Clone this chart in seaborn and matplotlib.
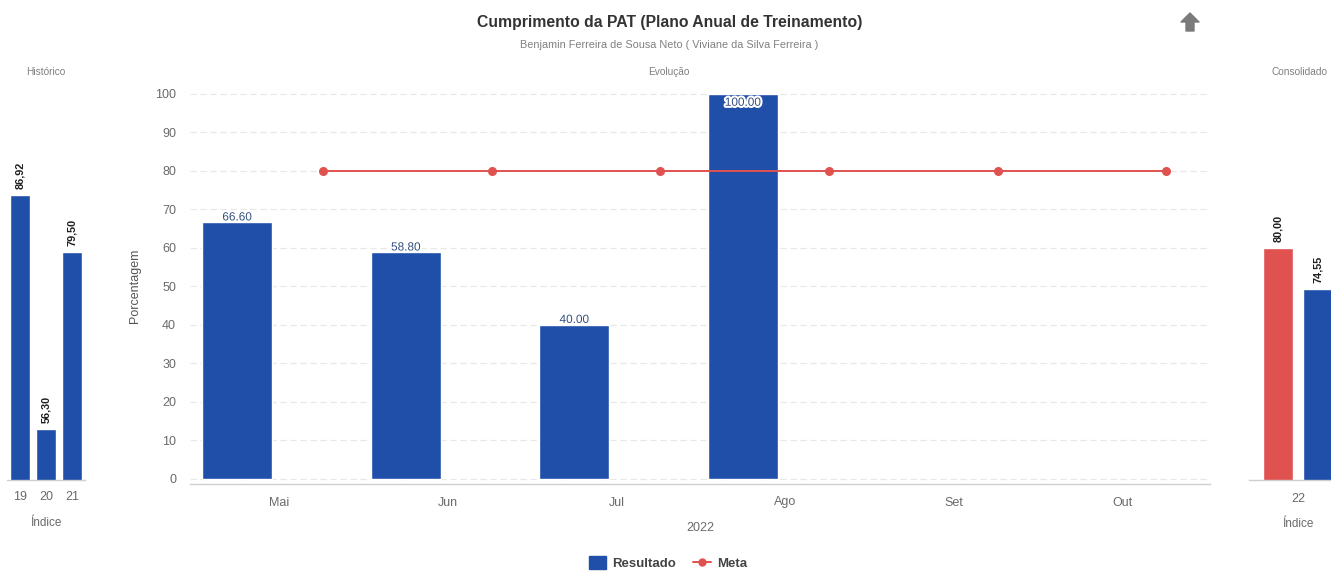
import numpy as np
import pandas as pd
import matplotlib
matplotlib.use("Agg")
import matplotlib.pyplot as plt
import seaborn as sns
from matplotlib import patheffects as pe
from matplotlib.patches import Patch, Polygon
from matplotlib.lines import Line2D

# ---- data -------------------------------------------------------------
meses = ["Mai", "Jun", "Jul", "Ago", "Set", "Out"]
resultado_meses = ["Mai", "Jun", "Jul", "Ago"]
resultado = [66.60, 58.80, 40.00, 100.00]
meta = [80, 80, 80, 80, 80, 80]

hist_indices = ["19", "20", "21"]
hist_valores = [86.92, 56.30, 79.50]

cons_indice = ["22", "22"]
cons_series = ["Meta", "Resultado"]
cons_valores = [80.00, 74.55]

# ---- style ------------------------------------------------------------
BLUE = "#1f4fa8"
RED = "#e0524f"
GRID = "#e8e8e8"
TICK = "#6a6a6a"

sns.set_theme(style="white")
plt.rcParams["font.family"] = ["Liberation Sans", "DejaVu Sans"]

W, H = 1331, 571
fig = plt.figure(figsize=(W / 100, H / 100), dpi=100)


def px_axes(x0, x1, y_top, y_bot):
    """Axes placed by pixel edges (origin at the top-left corner)."""
    return fig.add_axes([x0 / W, 1 - y_bot / H, (x1 - x0) / W, (y_bot - y_top) / H])


def style_axes(ax):
    for s in ["top", "right", "left"]:
        ax.spines[s].set_visible(False)
    ax.spines["bottom"].set_color("#d0d0d0")
    ax.spines["bottom"].set_linewidth(1.0)
    ax.tick_params(axis="both", length=0, colors=TICK, labelsize=9)
    ax.set_xlabel("")
    ax.set_ylabel("")


# ---- main chart: Evolução ----------------------------------------------
ax = px_axes(190, 1210, 88, 484)
df_res = pd.DataFrame({"mes": resultado_meses, "valor": resultado})
sns.barplot(data=df_res, x="mes", y="valor", order=meses, color=BLUE,
            saturation=1, width=0.415, ax=ax, zorder=3)
for p in ax.patches:
    p.set_x(p.get_x() - 0.25)

sns.lineplot(x=np.arange(len(meses)) + 0.26, y=meta, ax=ax, color=RED,
             linewidth=1.4, marker="o", markersize=6.5, markeredgewidth=0,
             zorder=4)

ax.set_xticks(range(len(meses)))
ax.set_xticklabels(meses)
ax.set_xlim(-0.53, 5.52)
ax.set_ylim(-1.3, 101.5)
ax.set_yticks(range(0, 101, 10))
ax.yaxis.grid(True, color=GRID, linewidth=0.9, linestyle=(0, (5, 3)), zorder=0)
ax.set_axisbelow(True)
style_axes(ax)
ax.tick_params(axis="y", pad=10)
ax.tick_params(axis="x", pad=9)
ax.set_ylabel("Porcentagem", fontsize=9, color="#555555", labelpad=10)
ax.set_xlabel("2022", fontsize=9, color=TICK, labelpad=10)

glow = [pe.withStroke(linewidth=3, foreground="white")]
for mes, v in zip(resultado_meses, resultado):
    i = meses.index(mes) - 0.25
    dy = -9 if v >= 98 else 5
    ax.annotate(f"{v:.2f}", (i, v), xytext=(0, dy), textcoords="offset pixels",
                ha="center", va="center", fontsize=8.5, color="#34507e",
                path_effects=glow, zorder=5)

# ---- left chart: Histórico ---------------------------------------------
axl = px_axes(7, 85, 95, 480)
sns.barplot(x=hist_indices, y=hist_valores, color=BLUE, saturation=1,
            width=0.77, ax=axl)
axl.set_ylim(49.6, 100)
axl.set_yticks([])
style_axes(axl)
axl.tick_params(axis="x", pad=8)
axl.set_xlabel("Índice", fontsize=8.5, color=TICK, labelpad=10)
for i, v in enumerate(hist_valores):
    axl.annotate(f"{v:.2f}".replace(".", ","), (i, v), xytext=(0, 6),
                 textcoords="offset pixels", rotation=90, ha="center",
                 va="bottom", fontsize=7.8, fontweight="bold", color="#1e1e1e")

# ---- right chart: Consolidado ------------------------------------------
axr = px_axes(1249, 1347, 95, 480)
df_cons = pd.DataFrame({"indice": cons_indice, "serie": cons_series,
                        "valor": cons_valores})
sns.barplot(data=df_cons, x="indice", y="valor", hue="serie",
            hue_order=cons_series, palette={"Meta": RED, "Resultado": BLUE},
            saturation=1, width=0.8, gap=0.23, legend=False, ax=axr)
axr.set_ylim(49.6, 100)
axr.set_yticks([])
axr.set_xlim(-0.5, 0.5)
style_axes(axr)
axr.tick_params(axis="x", pad=9)
axr.set_xlabel("Índice", fontsize=8.5, color=TICK, labelpad=10)
for p, v in zip(axr.patches, cons_valores):
    cx = p.get_x() + p.get_width() / 2
    axr.annotate(f"{v:.2f}".replace(".", ","), (cx, v), xytext=(0, 6),
                 textcoords="offset pixels", rotation=90, ha="center",
                 va="bottom", fontsize=7.8, fontweight="bold", color="#1e1e1e")

# ---- titles -------------------------------------------------------------
fig.text(670 / W, 1 - 22 / H, "Cumprimento da PAT (Plano Anual de Treinamento)",
         ha="center", va="center", fontsize=11.3, fontweight="bold",
         color="#333333")
fig.text(669 / W, 1 - 45 / H,
         "Benjamin Ferreira de Sousa Neto ( Viviane da Silva Ferreira )",
         ha="center", va="center", fontsize=7.8, color="#808080")
fig.text(669 / W, 1 - 72 / H, "Evolução", ha="center", va="center",
         fontsize=7.3, color="#808080")
fig.text(46 / W, 1 - 72 / H, "Histórico", ha="center", va="center",
         fontsize=7.3, color="#808080")
fig.text(1300 / W, 1 - 72 / H, "Consolidado", ha="center", va="center",
         fontsize=7.3, color="#808080")

# ---- up-arrow icon --------------------------------------------------------
cx, cy = 1190, 22
shape = [(0, -9), (9, 0), (4, 0), (4, 9), (-4, 9), (-4, 0), (-9, 0)]
fig.add_artist(Polygon([((cx + dx) / W, 1 - (cy + dy) / H) for dx, dy in shape],
                       closed=True, transform=fig.transFigure,
                       facecolor="#7a7a7a", edgecolor="#7a7a7a",
                       linewidth=1, joinstyle="round"))

# ---- legend -------------------------------------------------------------
handles = [
    Patch(facecolor=BLUE, edgecolor=BLUE, label="Resultado"),
    Line2D([0], [0], color=RED, linewidth=1.4, marker="o", markersize=6,
           markeredgewidth=0, label="Meta"),
]
fig.legend(handles=handles, loc="center", bbox_to_anchor=(668 / W, 1 - 563 / H),
           ncol=2, frameon=False, handlelength=1.3,
           handleheight=1.2, columnspacing=1.3, handletextpad=0.5,
           prop={"weight": "bold", "size": 9.5})
for t in fig.legends[0].get_texts():
    t.set_color("#444444")

fig.savefig("out.png", dpi=100)
